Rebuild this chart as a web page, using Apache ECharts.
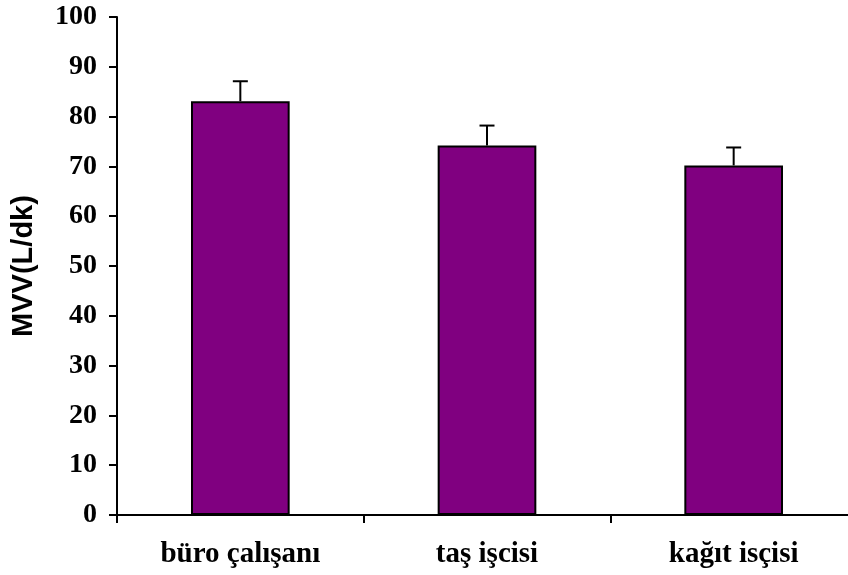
<!DOCTYPE html>
<html>
<head>
<meta charset="utf-8">
<script src="https://cdn.jsdelivr.net/npm/echarts@6/dist/echarts.min.js"></script>
<style>
  html, body { margin: 0; padding: 0; background: #fff; }
  #chart { width: 848px; height: 575px; }
</style>
</head>
<body>
<div id="chart"></div>
<script>
var categories = ["büro çalışanı", "taş işcisi", "kağıt isçisi"];
var means = [83.1, 74.2, 70.2];
var sds = [4.0, 4.0, 3.6];

var chart = echarts.init(document.getElementById("chart"));

var errData = categories.map(function (c, i) {
    return [i, means[i], means[i] + sds[i]];
});

var option = {
    animation: false,
    grid: { left: 117, top: 17, width: 740, height: 498, outerBoundsMode: "none", containLabel: false },
    xAxis: {
        type: "category",
        data: categories,
        axisLine: { lineStyle: { color: "#000", width: 2 } },
        axisTick: { show: true, length: 8, lineStyle: { color: "#000", width: 2 } },
        axisLabel: {
            color: "#000", fontFamily: "Liberation Serif", fontWeight: "bold",
            fontSize: 29, margin: 25
        },
        splitLine: { show: false }
    },
    yAxis: {
        type: "value",
        min: 0, max: 100, interval: 10,
        name: "MVV(L/dk)",
        nameLocation: "middle",
        nameGap: 79,
        nameTextStyle: {
            color: "#000", fontFamily: "Liberation Sans", fontWeight: "bold", fontSize: 29
        },
        axisLine: { show: true, lineStyle: { color: "#000", width: 2 } },
        axisTick: { show: true, length: 8, lineStyle: { color: "#000", width: 2 } },
        axisLabel: {
            color: "#000", fontFamily: "Liberation Serif", fontWeight: "bold",
            fontSize: 28, margin: 20
        },
        splitLine: { show: false }
    },
    series: [
        {
            type: "bar",
            data: means,
            barWidth: "40%",
            itemStyle: { color: "#800080", borderColor: "#000", borderWidth: 2 },
            z: 2
        },
        {
            type: "custom",
            data: errData,
            z: 1,
            renderItem: function (params, api) {
                var x = api.value(0);
                var low = api.coord([x, api.value(1)]);
                var high = api.coord([x, api.value(2)]);
                var style = { stroke: "#000", lineWidth: 2 };
                return {
                    type: "group",
                    children: [
                        { type: "line", shape: { x1: low[0], y1: low[1], x2: high[0], y2: high[1] }, style: style },
                        { type: "line", shape: { x1: high[0] - 7.5, y1: high[1], x2: high[0] + 7.5, y2: high[1] }, style: style }
                    ]
                };
            }
        }
    ]
};

chart.setOption(option);
</script>
</body>
</html>
